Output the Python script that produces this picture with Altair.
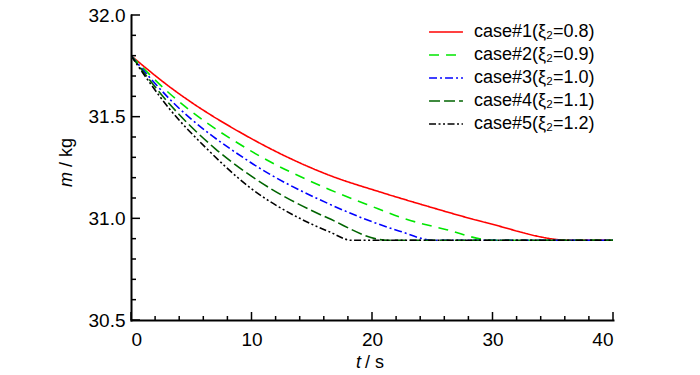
import altair as alt
import pandas as pd

FONT = "Liberation Sans, Arial, sans-serif"

labels = ["case#1(ξ₂=0.8)", "case#2(ξ₂=0.9)", "case#3(ξ₂=1.0)",
          "case#4(ξ₂=1.1)", "case#5(ξ₂=1.2)"]
colors = ["#ff0000", "#00e600", "#0000ff", "#006400", "#000000"]
dashes = [[1, 0], [10, 7], [8, 3, 2, 3], [11, 4], [7, 2.5, 2, 2.5, 2, 2.5]]

t1 = [0, 3.2, 9.9, 16.5, 20.7, 24.0, 29.4, 36.5, 40]
m1 = [31.80, 31.647, 31.395, 31.211, 31.129, 31.070, 30.980, 30.892, 30.892]
t2 = [0, 3.2, 9.9, 16.5, 20.5, 22.3, 26.2, 30.0, 40]
m2 = [31.80, 31.614, 31.333, 31.141, 31.047, 31.006, 30.944, 30.892, 30.892]
t3 = [0, 3.2, 9.9, 16.5, 22.3, 25.1, 40]
m3 = [31.80, 31.587, 31.276, 31.069, 30.937, 30.892, 30.892]
t4 = [0, 3.2, 7.0, 9.9, 16.4, 21.3, 40]
m4 = [31.80, 31.562, 31.342, 31.211, 31.000, 30.892, 30.892]
t5 = [0, 3.2, 6.3, 9.9, 14.0, 16.5, 18.3, 40]
m5 = [31.80, 31.538, 31.342, 31.150, 31.000, 30.933, 30.892, 30.892]

x_major = [0, 10, 20, 30, 40]
x_minor = [2, 4, 6, 8, 12, 14, 16, 18, 22, 24, 26, 28, 32, 34, 36, 38]
y_major = [30.5, 31.0, 31.5, 32.0]
y_minor = [30.6, 30.7, 30.8, 30.9, 31.1, 31.2, 31.3, 31.4, 31.6, 31.7, 31.8, 31.9]

rows = []
for lab, ts, ms in zip(labels, [t1, t2, t3, t4, t5], [m1, m2, m3, m4, m5]):
    for t, m in zip(ts, ms):
        rows.append({"case": lab, "t": t, "m": m})
df = pd.DataFrame(rows)

W, H = 482, 305
FS = 18
TFS = 19
xs = alt.Scale(domain=[0, 40], nice=False, zero=False)
ys = alt.Scale(domain=[30.5, 32.0], nice=False, zero=False)

lines = alt.Chart(df).mark_line(strokeWidth=1.6, interpolate="monotone", clip=True).encode(
    x=alt.X("t:Q", scale=xs,
            axis=alt.Axis(values=x_major, format="d", title=None, tickSize=0,
                          labelPadding=10, grid=False, domainWidth=2, domainColor="black",
                          labelFontSize=TFS, labelFont=FONT, labelColor="black")),
    y=alt.Y("m:Q", scale=ys,
            axis=alt.Axis(values=y_major, format=".1f", title=None, tickSize=0,
                          labelPadding=6, grid=False, domainWidth=2, domainColor="black",
                          labelFontSize=TFS, labelFont=FONT, labelColor="black")),
    color=alt.Color("case:N", scale=alt.Scale(domain=labels, range=colors),
                    legend=alt.Legend(title=None, orient="none", legendX=297, legendY=7,
                                      symbolType="stroke", symbolSize=1150,
                                      symbolStrokeWidth=1.6, labelFontSize=FS,
                                      labelFont=FONT, labelColor="black",
                                      clipHeight=20, rowPadding=3, labelOffset=10)),
    strokeDash=alt.StrokeDash("case:N", scale=alt.Scale(domain=labels, range=dashes),
                              legend=None),
)

ymaj = alt.Chart(pd.DataFrame({"v": y_major})).mark_rule(color="black", strokeWidth=1.5).encode(
    y=alt.Y("v:Q", scale=ys), x=alt.value(0), x2=alt.value(9))
ymin = alt.Chart(pd.DataFrame({"v": y_minor})).mark_rule(color="black", strokeWidth=1.5).encode(
    y=alt.Y("v:Q", scale=ys), x=alt.value(0), x2=alt.value(5))
xmaj = alt.Chart(pd.DataFrame({"v": x_major})).mark_rule(color="black", strokeWidth=1.5).encode(
    x=alt.X("v:Q", scale=xs), y=alt.value(H), y2=alt.value(H - 8))
xmin = alt.Chart(pd.DataFrame({"v": x_minor})).mark_rule(color="black", strokeWidth=1.5).encode(
    x=alt.X("v:Q", scale=xs), y=alt.value(H), y2=alt.value(H - 4))

def txt(s, x, y, align, italic, angle=0):
    return alt.Chart(pd.DataFrame({"s": [s]})).mark_text(
        align=align, baseline="middle", fontSize=FS, font=FONT,
        fontStyle="italic" if italic else "normal", angle=angle, color="black"
    ).encode(text="s:N", x=alt.value(x), y=alt.value(y))

ytitle_m = txt("m", -64, 157, "right", True, 270)
ytitle_u = txt("/ kg", -64, 152, "left", False, 270)
xtitle_t = txt("t", 230, 348, "right", True)
xtitle_u = txt("/ s", 234, 348, "left", False)

chart = alt.layer(lines, ymin, ymaj, xmin, xmaj, ytitle_m, ytitle_u, xtitle_t, xtitle_u).properties(
    width=W, height=H,
    autosize=alt.AutoSizeParams(type="none"),
    padding={"left": 123, "top": 7, "right": 70, "bottom": 55},
).configure_view(stroke=None).configure_axis(domainCap="square")

chart.save("out.html", embed_options={"renderer": "svg", "actions": False})
